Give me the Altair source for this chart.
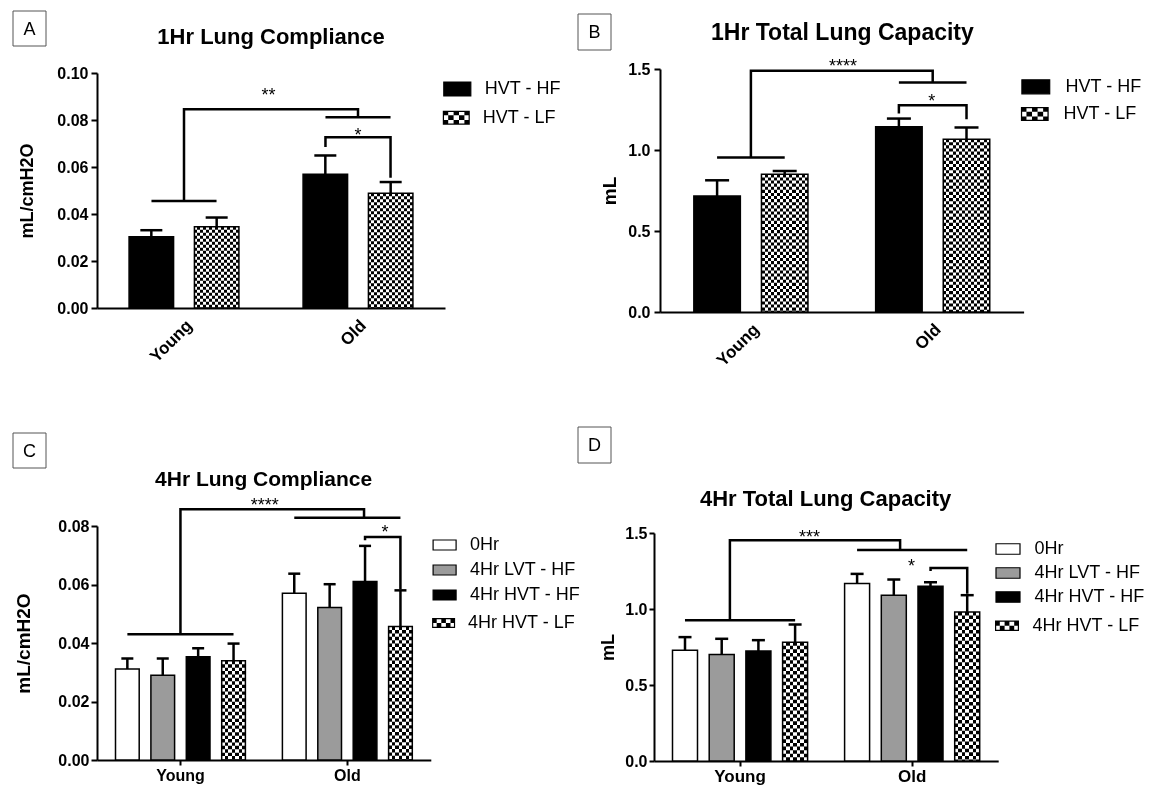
import altair as alt
import pandas as pd

FONT = "Liberation Sans"
GROUPS = ["Young", "Old"]

# ---------------- Panel A ----------------
A_LETTER = "A"
A_TITLE = "1Hr Lung Compliance"
A_YTITLE = "mL/cmH2O"
A_SERIES = ["HVT - HF", "HVT - LF"]
A_MEAN_YOUNG = [0.0303, 0.0346]
A_MEAN_OLD = [0.0569, 0.0488]
A_UPPER_YOUNG = [0.0331, 0.0385]
A_UPPER_OLD = [0.0649, 0.0536]
A_BRACKETS = [
    [(0.313, 0.0455), (0.687, 0.0455)],
    [(0.5, 0.0455), (0.5, 0.0846), (1.5, 0.0846), (1.5, 0.0812)],
    [(1.313, 0.0812), (1.687, 0.0812)],
    [(1.313, 0.0685), (1.313, 0.0727), (1.687, 0.0727), (1.687, 0.0554)],
]
A_STARS = [("**", 0.985, 0.0880), ("*", 1.5, 0.0710)]
A_YTICKS = [0.0, 0.02, 0.04, 0.06, 0.08, 0.10]

# ---------------- Panel B ----------------
B_LETTER = "B"
B_TITLE = "1Hr Total Lung Capacity"
B_YTITLE = "mL"
B_SERIES = ["HVT - HF", "HVT - LF"]
B_MEAN_YOUNG = [0.716, 0.850]
B_MEAN_OLD = [1.143, 1.067]
B_UPPER_YOUNG = [0.813, 0.871]
B_UPPER_OLD = [1.194, 1.139]
B_BRACKETS = [
    [(0.314, 0.953), (0.686, 0.953)],
    [(0.5, 0.953), (0.5, 1.489), (1.5, 1.489), (1.5, 1.417)],
    [(1.314, 1.417), (1.686, 1.417)],
    [(1.314, 1.225), (1.314, 1.277), (1.686, 1.277), (1.686, 1.190)],
]
B_STARS = [("****", 1.007, 1.481), ("*", 1.495, 1.265)]
B_YTICKS = [0.0, 0.5, 1.0, 1.5]

# ---------------- Panel C ----------------
C_LETTER = "C"
C_TITLE = "4Hr Lung Compliance"
C_YTITLE = "mL/cmH2O"
C_SERIES = ["0Hr", "4Hr LVT - HF", "4Hr HVT - HF", "4Hr HVT - LF"]
C_MEAN_YOUNG = [0.0311, 0.0290, 0.0353, 0.0339]
C_MEAN_OLD = [0.0570, 0.0521, 0.0610, 0.0456]
C_UPPER_YOUNG = [0.0347, 0.0347, 0.0382, 0.0398]
C_UPPER_OLD = [0.0637, 0.0601, 0.0732, 0.0580]
C_BRACKETS = [
    [(0.182, 0.0430), (0.818, 0.0430)],
    [(0.5, 0.0430), (0.5, 0.0857), (1.6, 0.0857), (1.6, 0.0828)],
    [(1.182, 0.0828), (1.818, 0.0828)],
    [(1.606, 0.0751), (1.606, 0.0762), (1.818, 0.0762), (1.818, 0.0584)],
]
C_STARS = [("****", 1.005, 0.0850), ("*", 1.726, 0.0758)]
C_YTICKS = [0.0, 0.02, 0.04, 0.06, 0.08]

# ---------------- Panel D ----------------
D_LETTER = "D"
D_TITLE = "4Hr Total Lung Capacity"
D_YTITLE = "mL"
D_SERIES = ["0Hr", "4Hr LVT - HF", "4Hr HVT - HF", "4Hr HVT - LF"]
D_MEAN_YOUNG = [0.729, 0.701, 0.723, 0.782]
D_MEAN_OLD = [1.167, 1.091, 1.150, 0.981]
D_UPPER_YOUNG = [0.815, 0.804, 0.795, 0.898]
D_UPPER_OLD = [1.231, 1.194, 1.176, 1.091]
D_BRACKETS = [
    [(0.18, 0.926), (0.82, 0.926)],
    [(0.441, 0.926), (0.441, 1.452), (1.43, 1.452), (1.43, 1.388)],
    [(1.18, 1.388), (1.82, 1.388)],
    [(1.607, 1.25), (1.607, 1.27), (1.82, 1.27), (1.82, 1.10)],
]
D_STARS = [("***", 0.904, 1.437), ("*", 1.496, 1.246)]
D_YTICKS = [0.0, 0.5, 1.0, 1.5]

SOLID_COLORS = {"0Hr": "white", "4Hr LVT - HF": "#9b9b9b",
                "4Hr HVT - HF": "black", "HVT - HF": "black"}


def bars_frame(series, my, mo, uy, uo):
    rows = []
    for g, means, ups in (("Young", my, uy), ("Old", mo, uo)):
        for s, m, u in zip(series, means, ups):
            rows.append({"group": g, "series": s, "mean": m, "upper": u})
    return pd.DataFrame(rows)


def bracket_frame(brackets):
    rows = []
    for i, pts in enumerate(brackets):
        for k, (x, y) in enumerate(pts):
            rows.append({"id": i, "k": k, "x": x, "y": y})
    return pd.DataFrame(rows)


def stars_frame(stars):
    return pd.DataFrame([{"label": t, "x": x, "y": y} for t, x, y in stars])


def rect_path(h):
    return f"M-1,{-h:.4f}H1V{h:.4f}H-1Z"


def checker_path(h, cols, rows, t):
    p = f"M-1,{-h:.4f}H1V{h:.4f}H-1Z"
    p += f"M{-1 + t:.4f},{-h + t:.4f}V{h - t:.4f}H{1 - t:.4f}V{-h + t:.4f}Z"
    cw = 2.0 / cols
    ch = 2.0 * h / rows
    for i in range(cols):
        for j in range(rows):
            if (i + j) % 2 == 0:
                x0 = -1 + i * cw
                y0 = -h + j * ch
                p += f"M{x0:.4f},{y0:.4f}h{cw:.4f}v{ch:.4f}h{-cw:.4f}Z"
    return p


def stripes(n):
    stops = []
    for k in range(n):
        col = "black" if k % 2 == 0 else "white"
        stops.append(alt.GradientStop(offset=k / n, color=col))
        stops.append(alt.GradientStop(offset=(k + 1) / n, color=col))
    return alt.LinearGradient(gradient="linear", stops=stops, x1=0, x2=1, y1=0, y2=0)


def make_panel(letter, title, ytitle, series, df, bdf, sdf, yticks, L):
    checker = series[-1]
    solid = series[:-1]
    xs = alt.Scale(domain=GROUPS, range=L["xr"], paddingInner=L["pi"],
                   paddingOuter=L["pi"] / 2)
    xos = alt.Scale(domain=series, paddingInner=0, paddingOuter=0)
    ys = alt.Scale(domain=L["ydom"], range=L["yr"], nice=False, zero=True)
    xa = alt.Scale(domain=[0, 2], range=L["xr"], nice=False, zero=False)

    if L["rot"]:
        xaxis = alt.Axis(title=None, labelAngle=-45, ticks=False,
                         labelPadding=L["xlp"], labelFont=FONT,
                         labelFontSize=L["xfs"], labelFontWeight="bold",
                         labelColor="black", domainColor="black", domainWidth=2)
    else:
        xaxis = alt.Axis(title=None, labelAngle=0, ticks=True, tickSize=5,
                         tickWidth=2, tickColor="black",
                         labelPadding=L["xlp"], labelFont=FONT,
                         labelFontSize=L["xfs"], labelFontWeight="bold",
                         labelColor="black", domainColor="black", domainWidth=2)
    yaxis = alt.Axis(title=ytitle, values=yticks, format=L["fmt"], grid=False,
                     tickSize=L["yts"], tickWidth=2, tickColor="black",
                     domainColor="black", domainWidth=2, labelPadding=L["ylp"],
                     labelFont=FONT, labelFontSize=16, labelFontWeight="bold",
                     labelColor="black", titleFont=FONT,
                     titleFontSize=L["ytfs"], titleFontWeight="bold",
                     titleColor="black", titlePadding=L["ytp"],
                     offset=L["yoff"])

    X = alt.X("group:N", scale=xs)
    XO = alt.XOffset("series:N", scale=xos)
    base = alt.Chart(df)
    chk = base.transform_filter(alt.datum.series == checker)
    bw = L["bw"]

    leg_common = dict(orient="none", title=None, padding=0, symbolOffset=0,
                      labelFont=FONT, labelFontSize=18, labelColor="black",
                      labelOffset=L["lo"], rowPadding=L["rp"],
                      symbolSize=L["ss"], labelLimit=300)

    solid_layer = base.transform_filter(alt.datum.series != checker).mark_bar(
        width=bw, stroke="black", strokeWidth=1.5
    ).encode(
        x=alt.X("group:N", scale=xs, axis=xaxis),
        xOffset=XO,
        y=alt.Y("mean:Q", scale=ys, axis=yaxis, stack=None),
        color=alt.Color(
            "series:N",
            scale=alt.Scale(domain=solid, range=[SOLID_COLORS[s] for s in solid]),
            legend=alt.Legend(legendX=L["lx"], legendY=L["ly"],
                              symbolType=rect_path(L["sh"]),
                              symbolStrokeColor="black", symbolStrokeWidth=1.2,
                              **leg_common),
        ),
    )
    stripe_layer = chk.mark_bar(width=bw, fill=stripes(L["ncol"]), strokeWidth=0).encode(
        x=X, xOffset=XO, y=alt.Y("mean:Q", scale=ys, stack=None)
    )
    dash_layer = chk.mark_rule(
        strokeWidth=bw, stroke="white", strokeDash=[L["cell"], L["cell"]],
        blend="difference"
    ).encode(x=X, xOffset=XO, y=alt.Y("mean:Q", scale=ys), y2=alt.datum(0))
    outline_layer = chk.mark_bar(width=bw, fillOpacity=0, stroke="black",
                                 strokeWidth=1.5).encode(
        x=X, xOffset=XO, y=alt.Y("mean:Q", scale=ys, stack=None)
    )
    err_layer = base.mark_rule(color="black", strokeWidth=2.5).encode(
        x=X, xOffset=XO, y=alt.Y("mean:Q", scale=ys), y2="upper:Q"
    )
    cap_layer = base.mark_tick(color="black", thickness=2.5, size=L["capw"],
                               opacity=1).encode(
        x=X, xOffset=XO, y=alt.Y("upper:Q", scale=ys)
    )
    legend_layer = base.transform_filter("false").mark_point(
        filled=True, color="black", opacity=1
    ).encode(
        shape=alt.Shape(
            "series:N",
            scale=alt.Scale(domain=[checker],
                            range=[checker_path(L["sh"], L["lcols"], L["lrows"], L["lt"])]),
            legend=alt.Legend(legendX=L["lx"], legendY=L["ly2"],
                              symbolStrokeWidth=0, symbolFillColor="black",
                              **leg_common),
        )
    )
    bar_group = alt.layer(solid_layer, stripe_layer, dash_layer, outline_layer,
                          err_layer, cap_layer, legend_layer)

    br_layer = alt.Chart(bdf).mark_line(color="black", strokeWidth=2.5,
                                        strokeJoin="miter", strokeCap="butt").encode(
        x=alt.X("x:Q", scale=xa, axis=None),
        y=alt.Y("y:Q", scale=ys),
        detail="id:N",
        order="k:O",
    )
    star_layer = alt.Chart(sdf).mark_text(font=FONT, fontSize=18, color="black",
                                          baseline="alphabetic", align="center").encode(
        x=alt.X("x:Q", scale=xa, axis=None),
        y=alt.Y("y:Q", scale=ys),
        text="label:N",
    )
    annot_group = alt.layer(br_layer, star_layer)

    ddf = pd.DataFrame({"letter": [letter], "title": [title]})
    box = alt.Chart(ddf).mark_rect(fill="white", stroke="#555555", strokeWidth=1).encode(
        x=alt.value(L["box"][0]), x2=alt.value(L["box"][1]),
        y=alt.value(L["box"][2]), y2=alt.value(L["box"][3]),
    )
    letter_t = alt.Chart(ddf).mark_text(font=FONT, fontSize=18, color="black",
                                        baseline="middle", align="center").encode(
        x=alt.value((L["box"][0] + L["box"][1]) / 2),
        y=alt.value((L["box"][2] + L["box"][3]) / 2 + 1),
        text="letter:N",
    )
    title_t = alt.Chart(ddf).mark_text(font=FONT, fontSize=L["tfs"], fontWeight="bold",
                                       color="black", baseline="alphabetic",
                                       align="center").encode(
        x=alt.value(L["tx"]), y=alt.value(L["ty"]), text="title:N",
    )

    return alt.layer(box, letter_t, title_t, bar_group, annot_group).resolve_scale(
        x="independent"
    ).properties(width=370, height=L["vh"])


LA = dict(xr=[0, 348], pi=0.249, ydom=[0, 0.10], yr=[239, 4], vh=239, rot=True,
          xlp=9, xfs=17, fmt=".2f", yts=6, ylp=3, ytfs=18, ytp=20, yoff=0,
          bw=44.5, ncol=15, cell=3.0, capw=22,
          lx=345.8, ly=5.5, ly2=35.2, lo=13, rp=2, ss=729, sh=0.5185,
          lcols=5, lrows=3, lt=0.09,
          box=[-84, -51, -58, -23], tx=174, ty=-24.7, tfs=22)
LB = dict(xr=[6, 369.6], pi=0.2563, ydom=[0, 1.5], yr=[243, 0], vh=243, rot=True,
          xlp=9, xfs=17, fmt=".1f", yts=6, ylp=4, ytfs=19, ytp=8, yoff=-6,
          bw=46.5, ncol=15, cell=3.1, capw=24,
          lx=366.8, ly=2.8, ly2=31.1, lo=14.7, rp=2, ss=773, sh=0.504,
          lcols=5, lrows=3, lt=0.09,
          box=[-76, -43, -55, -19], tx=188.4, ty=-28.7, tfs=23)
LC = dict(xr=[0, 333.8], pi=0.1516, ydom=[0, 0.08], yr=[234, 0], vh=234, rot=False,
          xlp=2, xfs=16, fmt=".2f", yts=6, ylp=2, ytfs=19, ytp=24, yoff=0,
          bw=23.7, ncol=7, cell=3.4, capw=12,
          lx=335.1, ly=6.5, ly2=85.5, lo=12.9, rp=3, ss=529, sh=0.435,
          lcols=5, lrows=2, lt=0.1,
          box=[-84, -51, -93, -58], tx=166.6, ty=-40, tfs=21)
LD = dict(xr=[0, 344.2], pi=0.147, ydom=[0, 1.5], yr=[235, 7], vh=235, rot=False,
          xlp=2, xfs=17, fmt=".1f", yts=5, ylp=2, ytfs=18, ytp=7, yoff=0,
          bw=25, ncol=7, cell=3.6, capw=13,
          lx=341, ly=10, ly2=87.8, lo=13.6, rp=2, ss=576, sh=0.4375,
          lcols=5, lrows=2, lt=0.1,
          box=[-76, -43, -99, -63], tx=171.6, ty=-20, tfs=22)

pA = make_panel(A_LETTER, A_TITLE, A_YTITLE, A_SERIES,
                bars_frame(A_SERIES, A_MEAN_YOUNG, A_MEAN_OLD, A_UPPER_YOUNG, A_UPPER_OLD),
                bracket_frame(A_BRACKETS), stars_frame(A_STARS), A_YTICKS, LA)
pB = make_panel(B_LETTER, B_TITLE, B_YTITLE, B_SERIES,
                bars_frame(B_SERIES, B_MEAN_YOUNG, B_MEAN_OLD, B_UPPER_YOUNG, B_UPPER_OLD),
                bracket_frame(B_BRACKETS), stars_frame(B_STARS), B_YTICKS, LB)
pC = make_panel(C_LETTER, C_TITLE, C_YTITLE, C_SERIES,
                bars_frame(C_SERIES, C_MEAN_YOUNG, C_MEAN_OLD, C_UPPER_YOUNG, C_UPPER_OLD),
                bracket_frame(C_BRACKETS), stars_frame(C_STARS), C_YTICKS, LC)
pD = make_panel(D_LETTER, D_TITLE, D_YTITLE, D_SERIES,
                bars_frame(D_SERIES, D_MEAN_YOUNG, D_MEAN_OLD, D_UPPER_YOUNG, D_UPPER_OLD),
                bracket_frame(D_BRACKETS), stars_frame(D_STARS), D_YTICKS, LD)

chart = alt.concat(
    pA, pB, pC, pD, columns=2, spacing={"row": 214, "column": 187},
    bounds="flush", align="all"
).resolve_scale(
    x="independent", y="independent", xOffset="independent",
    color="independent", shape="independent"
).resolve_legend(
    color="independent", shape="independent"
).properties(
    padding={"left": 4, "top": 2, "right": 2, "bottom": 8},
    background="white",
).configure_view(stroke="transparent", strokeWidth=0)

chart.save("out.html", embed_options={"renderer": "svg", "actions": False})
